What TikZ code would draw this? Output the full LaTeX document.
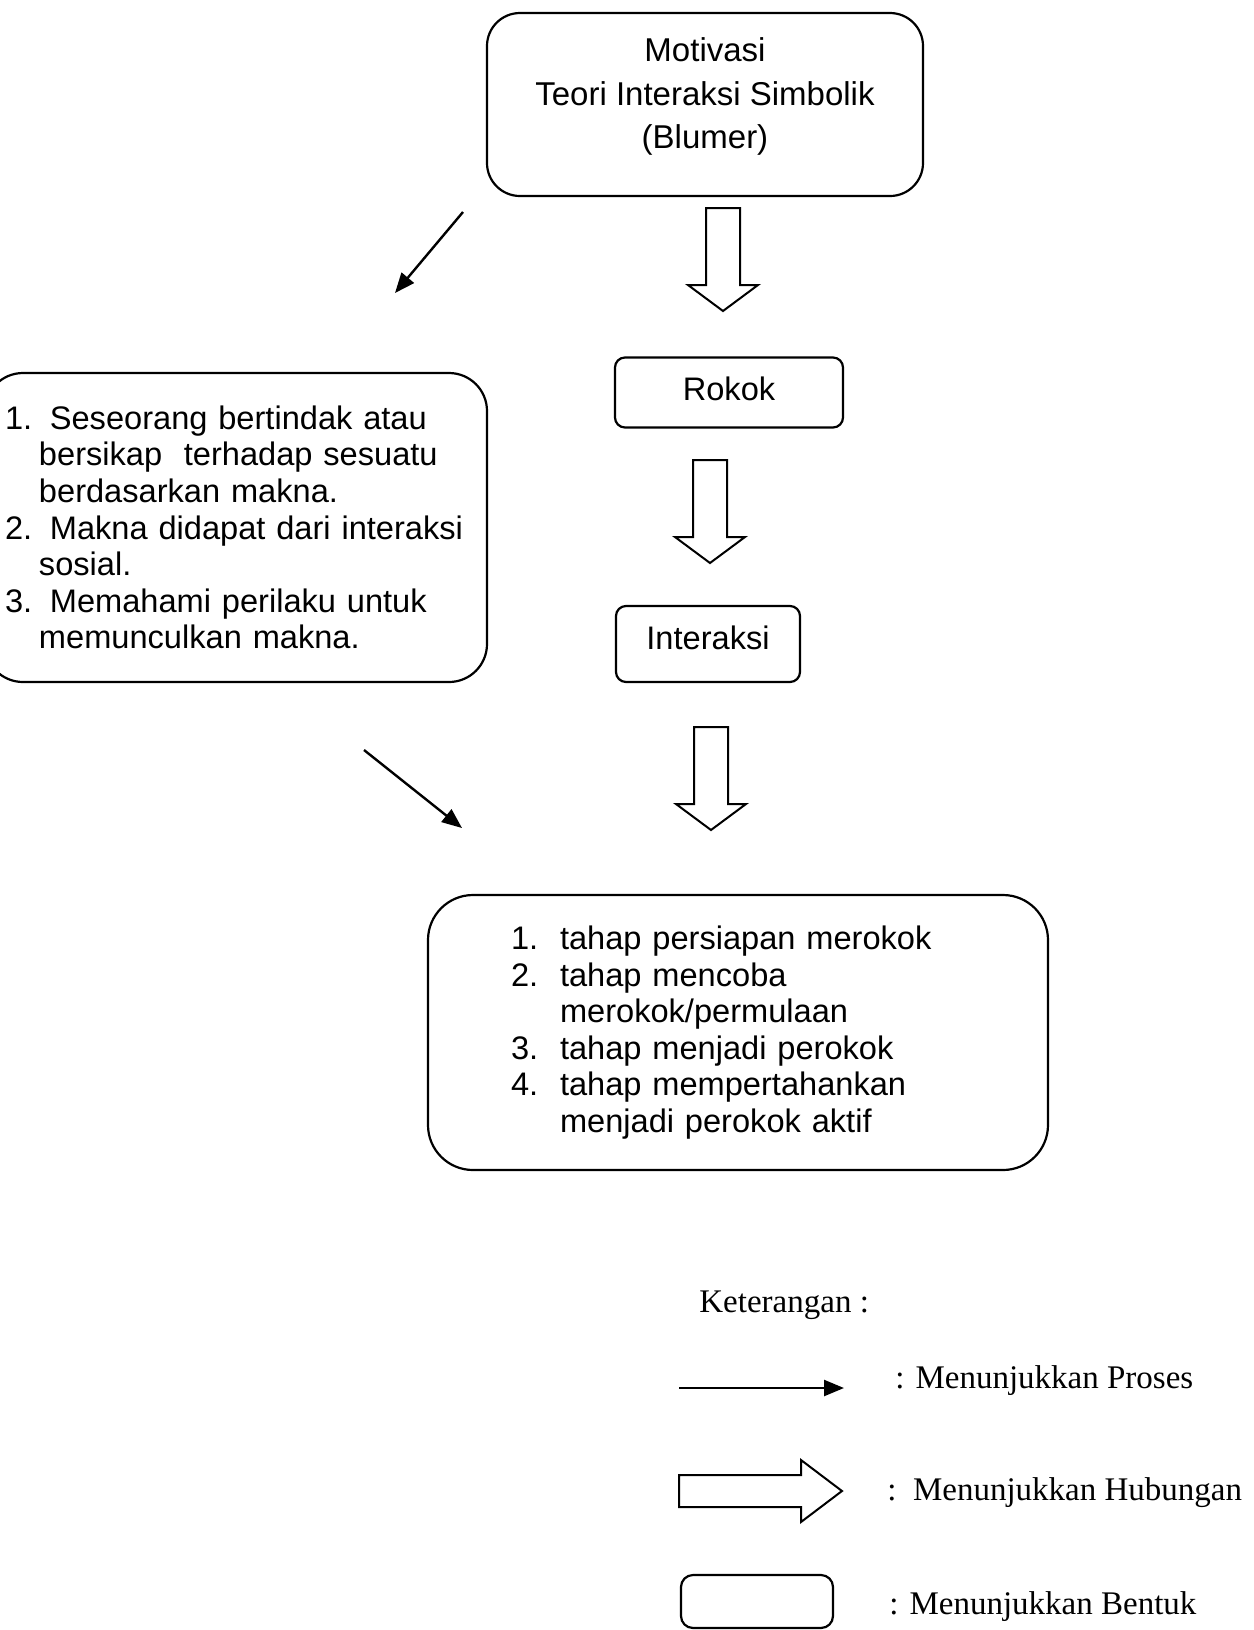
\documentclass[tikz,border=0pt]{standalone}
\usepackage{fontspec}
\newfontfamily\sansdiag{Liberation Sans}
\newfontfamily\serifket{Liberation Serif}
\usetikzlibrary{positioning,arrows.meta}

\begin{document}
\begin{tikzpicture}[x=0.5pt, y=-0.5pt,
                    bentuknode/.style={rectangle, rounded corners=5pt, draw=black, line width=1.1pt, font=\sansdiag\fontsize{16.3}{18.3}\selectfont, align=center, inner sep=0pt, outer sep=0pt},
                    prosesline/.style={line width=1.2pt, -{Triangle[length=10pt,width=8pt]}},
                    ketnode/.style={anchor=base west, inner sep=0pt, font=\serifket\fontsize{16.5}{19}\selectfont},
                    turunarrow/.pic={\draw[line width=1pt] (-17,0) -- (17,0) -- (17,77) -- (35,77) -- (0,103) -- (-35,77) -- (-17,77) -- cycle;},
                    kananarrow/.pic={\draw[line width=1pt] (0,-16) -- (122,-16) -- (122,-31) -- (163,0) -- (122,31) -- (122,16) -- (0,16) -- cycle;}
                ]
                    \useasboundingbox (0,0) rectangle (1254,1630);

                    % alur utama
                    \node[bentuknode, rounded corners=16.5pt, minimum width=218pt, minimum height=91.5pt, font=\sansdiag\fontsize{16.5}{21.75}\selectfont] (motiv) at (705,104.5) {Motivasi\\Teori Interaksi Simbolik\\(Blumer)\rule[-11pt]{0pt}{11pt}};
                    \pic (hubsatu) at (723,208) {turunarrow};
                    \node[bentuknode, minimum width=114pt, minimum height=35pt] (rokok) at (729,392.5) {Rokok\rule[-4pt]{0pt}{4pt}};
                    \pic (hubdua) at (710,460) {turunarrow};
                    \node[bentuknode, minimum width=92pt, minimum height=38pt] (interaksi) at (708,644) {Interaksi\rule[-6pt]{0pt}{6pt}};
                    \pic (hubtiga) at (711,727) {turunarrow};

                    \node[bentuknode, rounded corners=19pt, align=left, text width=231pt, inner xsep=10pt, minimum height=154.5pt] (makna) at (236,527.5) {\makebox[17pt][l]{1.}\ Seseorang bertindak atau\\
                        \hspace*{17pt}bersikap\ \ terhadap sesuatu\\
                        \hspace*{17pt}berdasarkan makna.\\
                        \makebox[17pt][l]{2.}\ Makna didapat dari interaksi\\
                        \hspace*{17pt}sosial.\\
                        \makebox[17pt][l]{3.}\ Memahami perilaku untuk\\
                        \hspace*{17pt}memunculkan makna.};

                    \node[bentuknode, rounded corners=22.5pt, align=left, text width=227pt, inner xsep=41.5pt, minimum height=137.5pt] (tahap) at (738,1032.5) {\makebox[24.5pt][l]{1.}tahap persiapan merokok\\
                        \makebox[24.5pt][l]{2.}tahap mencoba\\
                        \hspace*{24.5pt}merokok/permulaan\\
                        \makebox[24.5pt][l]{3.}tahap menjadi perokok\\
                        \makebox[24.5pt][l]{4.}tahap mempertahankan\\
                        \hspace*{24.5pt}menjadi perokok aktif};

                    % panah proses
                    \coordinate (prosesA1) at (463,212);
                    \coordinate (prosesA2) at (395,293);
                    \coordinate (prosesB1) at (364,750);
                    \coordinate (prosesB2) at (462,828);
                    \draw[prosesline] (prosesA1) -- (prosesA2);
                    \draw[prosesline] (prosesB1) -- (prosesB2);

                    % keterangan
                    \node[ketnode] (keterangan) at (699,1312) {Keterangan :};
                    \coordinate (garisA) at (679,1388);
                    \coordinate (garisB) at (844,1388);
                    \draw[prosesline] (garisA) -- (garisB);
                    \node[ketnode] (ketproses) at (895,1388) {: Menunjukkan Proses};
                    \pic (hubket) at (679,1491) {kananarrow};
                    \node[ketnode] (kethubungan) at (887,1500) {:\ \ Menunjukkan Hubungan};
                    \node[bentuknode, rounded corners=6pt, minimum width=76pt, minimum height=26.5pt] (kotakket) at (757,1601.5) {};
                    \node[ketnode] (ketbentuk) at (889,1614) {: Menunjukkan Bentuk};
                \end{tikzpicture}
\end{document}
